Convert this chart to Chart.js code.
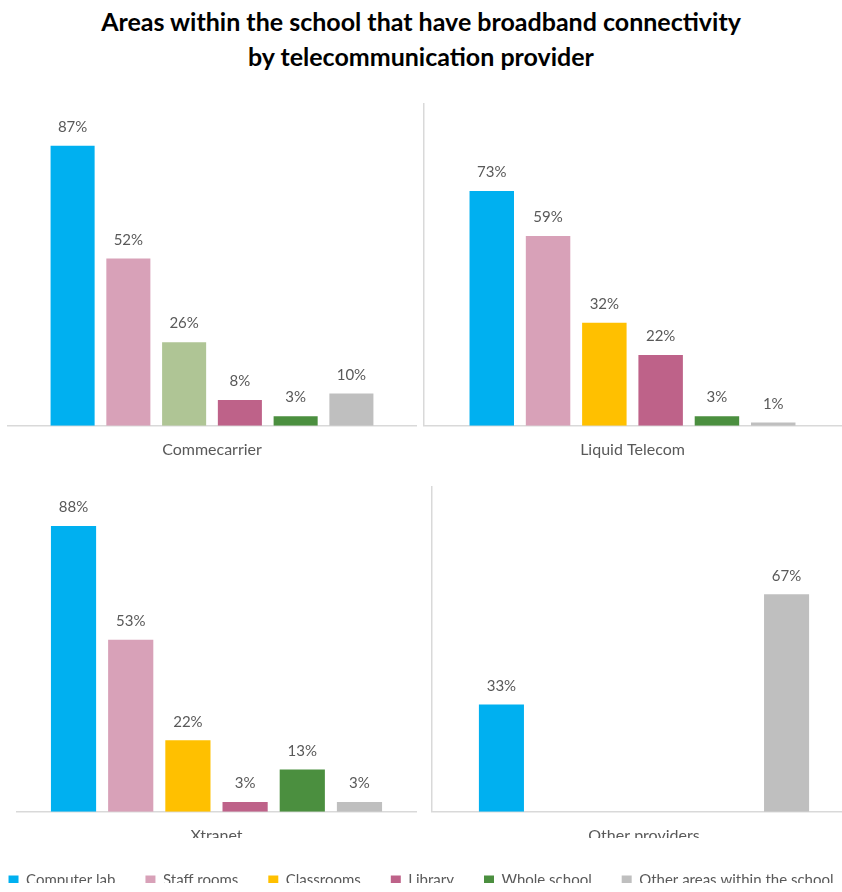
<!DOCTYPE html>
<html>
<head>
<meta charset="utf-8">
<script src="https://cdn.jsdelivr.net/npm/chart.js@4.4.0/dist/chart.umd.min.js"></script>
<style>
  body { margin:0; background:#fff; }
  #wrap { position:relative; width:842px; height:892px; overflow:hidden; }
  #title { position:absolute; left:0; top:4px; width:842px; text-align:center; font-family:Lato, sans-serif; font-weight:bold; font-size:25px; line-height:35px; color:#000; }
  canvas { position:absolute; }
</style>
</head>
<body>
<div id="wrap">
  <div id="title">Areas within the school that have broadband connectivity<br>by telecommunication provider</div>
  <canvas id="legend" width="900" height="80" style="left:-29px;top:843px"></canvas>
  <canvas id="c1" width="422" height="387" style="left:0;top:95px"></canvas>
  <canvas id="c2" width="420" height="387" style="left:422px;top:95px"></canvas>
  <canvas id="c3" width="432" height="360" style="left:0;top:478px"></canvas>
  <canvas id="c4" width="436" height="360" style="left:420px;top:478px"></canvas>
</div>
<script>
const areas = ['Computer lab', 'Staff rooms', 'Classrooms', 'Library', 'Whole school', 'Other areas within the school'];
const providers = ['Commecarrier', 'Liquid Telecom', 'Xtranet', 'Other providers'];

// percent of schools, one value per area
const commecarrier = [87, 52, 26, 8, 3, 10];
const liquidTelecom = [73, 59, 32, 22, 3, 1];
const xtranet = [88, 53, 22, 3, 13, 3];
const otherProviders = [33, null, null, null, null, 67];

const areaColors = ['#00B0F0', '#D8A1B8', '#FFC000', '#BE6289', '#4B8F3F', '#BFBFBF'];

const textGrey = '#595959';
const axisGrey = '#D9D9D9';

// value labels over the bars
const barLabels = {
  id: 'barLabels',
  afterDatasetsDraw(chart) {
    const ctx = chart.ctx;
    ctx.save();
    ctx.font = '15px Lato';
    ctx.fillStyle = textGrey;
    ctx.textAlign = 'center';
    ctx.textBaseline = 'bottom';
    chart.data.datasets.forEach((ds, i) => {
      chart.getDatasetMeta(i).data.forEach((bar, j) => {
        const v = ds.data[j];
        if (v == null) return;
        ctx.fillText(v + '%', bar.x, bar.y - 11);
      });
    });
    ctx.restore();
  }
};

const makePanel = (id, provider, values, opts) => {
  const colors = areaColors.slice();
  if (opts.colorOverride) Object.assign(colors, opts.colorOverride);
  new Chart(document.getElementById(id), {
    type: 'bar',
    data: {
      labels: [provider],
      datasets: areas.map((a, i) => ({
        label: a,
        data: [values[i]],
        backgroundColor: colors[i],
        borderWidth: 0
      }))
    },
    options: {
      responsive: false,
      animation: false,
      layout: { padding: opts.padding },
      datasets: { bar: { categoryPercentage: opts.catPct, barPercentage: 0.79 } },
      plugins: { legend: { display: false }, tooltip: { enabled: false } },
      scales: {
        x: {
          grid: { display: false, drawTicks: false },
          border: { color: axisGrey, width: 1.5 },
          ticks: { color: textGrey, font: { family: 'Lato', size: 16 }, padding: 14 }
        },
        y: {
          min: 0,
          max: 100,
          display: opts.divider,
          grid: { display: false, drawTicks: false },
          border: { color: axisGrey, width: 1.5 },
          ticks: { display: false }
        }
      }
    },
    plugins: [barLabels]
  });
};

// bottom row canvases are 26px shorter, so their bottom padding is 26px less
makePanel('c1', providers[0], commecarrier, {
  padding: { top: 9, left: 8, right: 6, bottom: 9 }, catPct: 0.82, divider: false,
  colorOverride: { 2: '#AFC595' }
});
makePanel('c2', providers[1], liquidTelecom, {
  padding: { top: 9, left: 2, right: 1, bottom: 9 }, catPct: 0.81, divider: true
});
makePanel('c3', providers[2], xtranet, {
  padding: { top: 9, left: 17, right: 16, bottom: -21 }, catPct: 0.86, divider: false
});
makePanel('c4', providers[3], otherProviders, {
  padding: { top: 9, left: 12, right: 0, bottom: -21 }, catPct: 0.807, divider: true
});

// shared legend along the bottom
new Chart(document.getElementById('legend'), {
  type: 'bar',
  data: {
    labels: [],
    datasets: areas.map((a, i) => ({ label: a, data: [], backgroundColor: areaColors[i] }))
  },
  options: {
    responsive: false,
    animation: false,
    scales: { x: { display: false }, y: { display: false } },
    plugins: {
      tooltip: { enabled: false },
      legend: {
        position: 'top',
        labels: {
          boxWidth: 10,
          boxHeight: 10,
          padding: 30,
          color: textGrey,
          font: { family: 'Lato', size: 15 }
        }
      }
    }
  }
});
</script>
</body>
</html>
